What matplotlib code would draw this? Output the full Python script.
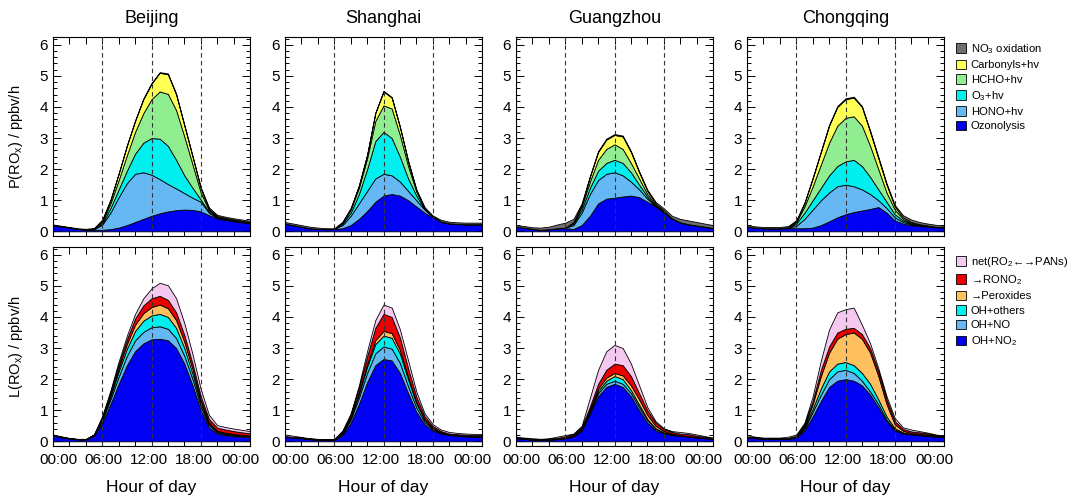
import matplotlib.pyplot as plt
from matplotlib.ticker import MultipleLocator
from matplotlib.patches import Patch

plt.rcParams['font.family'] = ['Liberation Sans', 'DejaVu Sans']
plt.rcParams['mathtext.default'] = 'regular'

hours = list(range(25))
cities = ['Beijing', 'Shanghai', 'Guangzhou', 'Chongqing']
time_ticks = [0, 6, 12, 18, 24]
time_labels = ['00:00', '06:00', '12:00', '18:00', '00:00']

# stacking order bottom -> top
prod_names = ['Ozonolysis', 'HONO+hv', 'O$_3$+hv', 'HCHO+hv', 'Carbonyls+hv', 'NO$_3$ oxidation']
prod_colors = ['#0000f5', '#66b8f5', '#00f0f0', '#90ee90', '#ffff55', '#6e6e6e']
loss_names = ['OH+NO$_2$', 'OH+NO', 'OH+others', '→Peroxides', '→RONO$_2$', 'net(RO$_2$←→PANs)']
loss_colors = ['#0000f5', '#66b8f5', '#00f0f0', '#ffc060', '#ee0000', '#f5c8f0']

# P(ROx), ppbv/h, hourly 00:00 .. 24:00
beijing_prod = [
    [.20, .16, .12, .08, .06, .05, .05, .07, .12, .20, .30, .40, .50, .58, .64, .68, .70, .69, .64, .52, .42, .37, .33, .29, .26],
    [0, 0, 0, 0, 0, .02, .17, .53, .98, 1.35, 1.55, 1.50, 1.32, 1.10, .88, .70, .53, .39, .31, .08, .01, .01, .01, .01, .01],
    [0, 0, 0, 0, 0, 0, .03, .15, .25, .40, .65, .95, 1.18, 1.30, 1.23, .92, .57, .32, .07, .03, .02, .01, .01, .01, .01],
    [0, 0, 0, 0, 0, .01, .05, .15, .30, .50, .70, .95, 1.25, 1.52, 1.67, 1.60, 1.25, .75, .23, .05, .02, .02, .01, .01, .01],
    [0, 0, 0, 0, 0, .01, .05, .10, .20, .30, .35, .45, .50, .60, .63, .50, .35, .25, .13, .04, .02, .02, .02, .02, .01],
    [.02, .02, .02, .02, .02, .02, .03, .02, .02, .02, .02, .02, .02, .02, .03, .03, .03, .03, .04, .05, .04, .04, .04, .04, .04],
]
shanghai_prod = [
    [.25, .20, .15, .10, .08, .07, .07, .10, .20, .40, .65, .95, 1.15, 1.20, 1.15, 1.00, .80, .60, .45, .30, .25, .23, .22, .22, .22],
    [0, 0, 0, 0, 0, 0, .01, .10, .30, .50, .65, .75, .70, .60, .45, .30, .20, .10, .03, .02, .01, .01, .01, .01, .01],
    [0, 0, 0, 0, 0, 0, 0, .05, .10, .30, .70, 1.20, 1.35, 1.20, .80, .40, .15, .02, 0, 0, 0, 0, 0, 0, 0],
    [0, 0, 0, 0, 0, 0, 0, .03, .10, .20, .35, .65, .85, .95, .70, .40, .13, .02, 0, 0, 0, 0, 0, 0, 0],
    [0, 0, 0, 0, 0, 0, 0, .01, .03, .06, .10, .25, .45, .35, .25, .15, .04, .01, 0, 0, 0, 0, 0, 0, 0],
    [.05, .05, .05, .05, .04, .03, .02, .02, .02, .02, .02, .02, .02, .02, .02, .02, .03, .03, .03, .05, .05, .05, .05, .05, .05],
]
guangzhou_prod = [
    [.15, .12, .08, .05, .07, .10, .10, .08, .20, .50, .90, 1.05, 1.08, 1.12, 1.15, 1.10, .95, .80, .60, .40, .28, .22, .18, .14, .10],
    [0, 0, 0, 0, 0, 0, .02, .12, .40, .70, .75, .80, .82, .68, .45, .25, .10, 0, .02, .02, .01, .01, .01, .01, .01],
    [0, 0, 0, 0, 0, 0, 0, .05, .10, .20, .30, .35, .40, .40, .30, .15, .07, .02, .01, 0, 0, 0, 0, 0, 0],
    [0, 0, 0, 0, 0, 0, 0, .03, .10, .20, .35, .45, .50, .45, .30, .20, .08, .03, .01, 0, 0, 0, 0, 0, 0],
    [0, 0, 0, 0, 0, 0, 0, .02, .05, .15, .25, .30, .30, .40, .35, .20, .10, .05, .03, 0, 0, 0, 0, 0, 0],
    [.05, .05, .05, .07, .08, .12, .16, .10, .05, .03, .03, .03, .03, .03, .03, .03, .04, .05, .07, .08, .11, .12, .11, .10, .09],
]
chongqing_prod = [
    [.15, .12, .10, .10, .10, .10, .10, .10, .12, .20, .32, .45, .55, .62, .67, .72, .78, .60, .35, .25, .20, .17, .15, .13, .12],
    [0, 0, 0, 0, 0, .01, .08, .30, .58, .80, .93, 1.00, .95, .83, .68, .48, .22, .15, .10, .05, .03, .02, .02, .01, .01],
    [0, 0, 0, 0, 0, 0, .07, .20, .30, .40, .55, .65, .75, .85, .75, .55, .35, .20, .10, .05, .02, .01, .01, 0, 0],
    [0, 0, 0, 0, 0, .01, .05, .20, .45, .75, 1.05, 1.30, 1.40, 1.40, 1.30, 1.00, .65, .30, .15, .05, .02, .01, 0, 0, 0],
    [0, 0, 0, 0, 0, .01, .03, .10, .25, .40, .55, .60, .60, .60, .60, .45, .35, .25, .10, .05, .03, .02, .01, .01, 0],
    [.05, .04, .04, .04, .04, .04, .03, .03, .03, .03, .03, .03, .03, .03, .03, .04, .05, .05, .05, .07, .08, .07, .06, .06, .05],
]

# L(ROx), ppbv/h
beijing_loss = [
    [.18, .13, .09, .06, .06, .18, .60, 1.20, 1.85, 2.45, 2.90, 3.15, 3.28, 3.30, 3.25, 3.00, 2.50, 1.80, 1.00, .45, .25, .20, .17, .15, .13],
    [.01, .01, .01, .01, .01, .02, .08, .15, .23, .30, .35, .37, .39, .40, .37, .32, .25, .20, .12, .07, .04, .03, .03, .02, .02],
    [0, 0, 0, 0, 0, .01, .04, .10, .17, .23, .30, .36, .38, .40, .38, .33, .25, .18, .10, .05, .03, .03, .02, .02, .02],
    [0, 0, 0, 0, 0, 0, .02, .05, .10, .15, .20, .24, .27, .30, .28, .25, .20, .15, .09, .04, .02, .02, .02, .02, .02],
    [.01, .01, 0, 0, 0, .01, .04, .08, .12, .15, .20, .25, .28, .28, .27, .25, .22, .17, .14, .11, .10, .10, .09, .08, .07],
    [.02, .01, .01, .01, .01, .01, .04, .06, .10, .12, .15, .23, .32, .42, .47, .45, .38, .30, .23, .13, .08, .08, .08, .08, .07],
]
shanghai_loss = [
    [.15, .12, .10, .07, .05, .05, .05, .20, .60, 1.20, 1.90, 2.45, 2.65, 2.60, 2.20, 1.55, .95, .55, .35, .25, .20, .18, .16, .15, .15],
    [.01, .01, .01, .01, .01, .01, .01, .04, .10, .20, .30, .38, .40, .38, .32, .22, .14, .07, .04, .02, .01, .01, .01, .01, .01],
    [0, 0, 0, 0, 0, 0, 0, .03, .06, .12, .20, .30, .35, .35, .30, .22, .13, .07, .03, .02, .01, .01, .01, .01, .01],
    [0, 0, 0, 0, 0, 0, 0, .01, .02, .05, .08, .12, .15, .15, .12, .08, .05, .02, .01, 0, 0, 0, 0, 0, 0],
    [.01, .01, .01, .01, .01, .01, .01, .04, .08, .15, .25, .40, .55, .52, .40, .28, .17, .10, .06, .04, .03, .03, .03, .03, .03],
    [.05, .04, .02, .01, .01, 0, .01, .03, .04, .08, .17, .25, .30, .30, .26, .25, .16, .09, .06, .05, .05, .04, .04, .04, .03],
]
guangzhou_loss = [
    [.10, .08, .05, .05, .05, .07, .10, .15, .35, .90, 1.45, 1.75, 1.85, 1.75, 1.45, 1.00, .60, .35, .25, .20, .18, .15, .12, .10, .08],
    [.01, .01, .01, .01, .01, .01, .01, .02, .03, .05, .10, .10, .10, .10, .10, .10, .08, .05, .03, .02, .01, .01, .01, .01, .01],
    [0, 0, 0, 0, 0, 0, .01, .01, .02, .04, .07, .10, .15, .15, .10, .08, .04, .02, .01, .01, 0, 0, 0, 0, 0],
    [0, 0, 0, 0, 0, 0, 0, .01, .01, .03, .08, .10, .10, .12, .15, .17, .13, .08, .04, .02, .01, .01, .01, 0, 0],
    [.01, .01, .01, .01, .02, .03, .04, .04, .05, .10, .15, .25, .30, .33, .30, .20, .15, .10, .07, .05, .05, .06, .04, .03, .01],
    [.03, .02, .03, .01, .02, .04, .04, .02, .04, .28, .45, .60, .60, .55, .40, .25, .10, .05, .02, .03, .05, .04, .04, .03, .02],
]
chongqing_loss = [
    [.12, .10, .08, .08, .08, .08, .12, .35, .80, 1.30, 1.75, 1.95, 2.00, 1.95, 1.80, 1.50, 1.10, .65, .35, .25, .22, .20, .17, .15, .13],
    [.01, .01, .01, .01, .01, .01, .02, .05, .15, .20, .25, .30, .30, .25, .15, .10, .10, .05, .03, .02, .01, .01, .01, .01, .01],
    [0, 0, 0, 0, 0, 0, .01, .05, .10, .20, .25, .25, .25, .25, .25, .25, .15, .10, .04, .02, .01, .01, .01, 0, 0],
    [0, 0, 0, 0, 0, 0, .01, .05, .15, .40, .60, .80, .90, 1.05, 1.10, 1.00, .75, .40, .13, .05, .03, .02, .02, .01, .01],
    [.02, .02, .01, .01, .01, .02, .02, .05, .10, .20, .20, .20, .17, .15, .15, .15, .15, .15, .10, .06, .05, .05, .04, .03, .02],
    [.05, .02, .02, .02, .02, .04, .04, .05, .15, .30, .55, .65, .63, .65, .30, .15, .10, .10, .10, .05, .06, .04, .03, .02, .01],
]

prod_data = [beijing_prod, shanghai_prod, guangzhou_prod, chongqing_prod]
loss_data = [beijing_loss, shanghai_loss, guangzhou_loss, chongqing_loss]

W, H = 1069, 497
fig = plt.figure(figsize=(W / 100, H / 100), dpi=100)

lefts = [53, 285, 516, 747]   # pixel positions of panels
pw = 197
rows = [(37, 236), (247, 446)]
# the time labels sit a bit squeezed together, like in the original
label_shift = [5, 1, -3, -7, -10]


def draw_panel(ax, layers, colors):
    stk = ax.stackplot(hours, *layers, colors=colors, edgecolor='black', linewidth=0.6)
    for s in stk:
        s.set_zorder(2.6)
    for h in [6, 12, 18]:
        ax.axvline(h, color='#333333', ls=(0, (4, 3)), lw=0.8, zorder=2.8)
    ax.set_xlim(0, 24)
    ax.set_ylim(-0.15, 6.25)
    ax.set_xticks(time_ticks)
    ax.set_xticklabels([])
    ax.xaxis.set_minor_locator(MultipleLocator(2))
    ax.set_yticks(range(7))
    ax.yaxis.set_minor_locator(MultipleLocator(0.2))
    ax.tick_params(which='both', direction='in', top=True, right=True, width=0.7, labelsize=11)
    ax.tick_params(axis='x', which='both', length=5)
    ax.tick_params(axis='y', which='major', length=6)
    ax.tick_params(axis='y', which='minor', length=3)
    for sp in ax.spines.values():
        sp.set_linewidth(0.8)
        sp.set_zorder(3)


for i, city in enumerate(cities):
    for r, (top, bot) in enumerate(rows):
        ax = fig.add_axes([lefts[i] / W, 1 - bot / H, pw / W, (bot - top) / H])
        if r == 0:
            draw_panel(ax, prod_data[i], prod_colors)
            ax.set_title(city, fontsize=13, pad=10)
            if i == 0:
                ax.set_ylabel('P(RO$_x$) / ppbv/h', fontsize=10.5)
        else:
            draw_panel(ax, loss_data[i], loss_colors)
            for h, lab, dx in zip(time_ticks, time_labels, label_shift):
                ax.annotate(lab, xy=(h, 0), xycoords=('data', 'axes fraction'),
                            xytext=(dx, -7), textcoords='offset pixels',
                            ha='center', va='top', fontsize=11)
            ax.set_xlabel('Hour of day', fontsize=12.5)
            ax.xaxis.set_label_coords(0.5, -0.17)
            if i == 0:
                ax.set_ylabel('L(RO$_x$) / ppbv/h', fontsize=10.5)
        ax.yaxis.set_label_coords(-0.142, 0.5)

# legends, top entry first
for names, colors, y0 in [(prod_names, prod_colors, 42), (loss_names, loss_colors, 255)]:
    handles = [Patch(facecolor=c, edgecolor='black', linewidth=0.6) for c in colors[::-1]]
    fig.legend(handles, names[::-1], loc='upper left', bbox_to_anchor=(956 / W, 1 - y0 / H),
               frameon=False, fontsize=8.1, handlelength=0.9, handleheight=0.9,
               handletextpad=0.4, labelspacing=0.35, borderpad=0, borderaxespad=0)

fig.savefig('out.png', dpi=100)
